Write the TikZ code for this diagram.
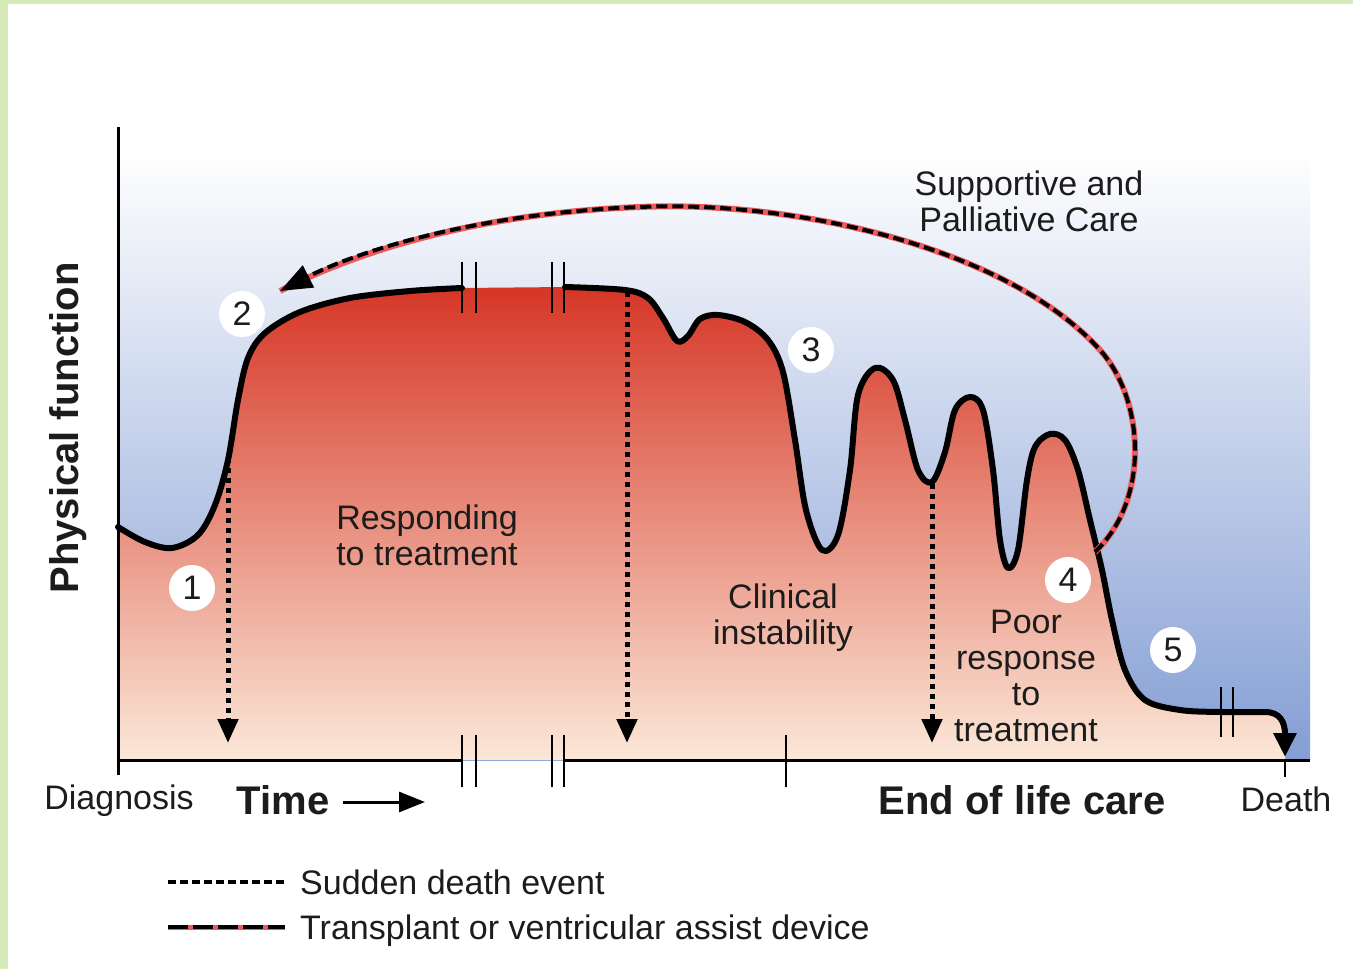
\documentclass[tikz,border=0pt]{standalone}
\usepackage{fontspec}
\setmainfont{Liberation Sans}
\usetikzlibrary{arrows.meta}
\definecolor{bgblue}{RGB}{132,158,212}
\definecolor{redtop}{RGB}{214,54,38}
\definecolor{redmid}{RGB}{226,120,88}
\definecolor{redbot}{RGB}{251,232,216}
\definecolor{framegreen}{RGB}{214,234,186}
\definecolor{arrowred}{RGB}{238,90,92}
\definecolor{txt}{RGB}{28,28,28}
\tikzset{
  axisline/.style={line width=3pt, black},
  breakmark/.style={line width=2.8pt, black},
  curveline/.style={line width=6pt, black, line cap=round, line join=round},
  sudden/.style={line width=5pt, black, dash pattern=on 5pt off 5pt, -{Triangle[length=24pt,width=20pt]}},
  redbase/.style={line width=6pt, arrowred},
  reddash/.style={line width=4pt, black, dash pattern=on 11pt off 5pt},
  num/.style={circle, fill=white, minimum size=46pt, inner sep=0pt, text=txt, font=\fontsize{34}{34}\selectfont},
  lbl/.style={text=txt, align=center, inner sep=0pt, font=\fontsize{34}{36}\selectfont},
  boldlbl/.style={text=txt, inner sep=0pt, font=\fontsize{40}{40}\selectfont\bfseries},
}
\begin{document}
\begin{tikzpicture}[x=1pt,y=-1pt]
\useasboundingbox (0,0) rectangle (1353,969);
\fill[white] (0,0) rectangle (1353,969);
% frame
\fill[framegreen] (0,0) rectangle (1353,4);
\fill[framegreen] (0,0) rectangle (8,969);
% background
\shade[top color=white, bottom color=bgblue] (118,150) rectangle (1310,760);
% red fill under curve
\shade[top color=redtop, middle color=redmid, bottom color=redbot]
  plot[smooth, tension=0.55] coordinates {(118,527) (145,542) (172,548) (198,535) (215,505) (228,460) (238,400) (248,358) (265,333) (300,312) (350,298) (410,291) (462,288)}
  -- plot[smooth, tension=0.55] coordinates {(565,287) (625,290) (648,298) (663,318) (677,341) (688,336) (700,319) (718,315) (745,322) (768,340) (783,372) (795,440) (806,510) (822,550) (838,535) (850,470) (858,395) (875,368) (893,380) (905,420) (918,470) (932,482) (945,452) (955,410) (970,397) (983,410) (993,470) (1000,540) (1008,568) (1018,550) (1027,480) (1035,447) (1050,434) (1065,440) (1078,470) (1090,520) (1102,570) (1112,620) (1125,670) (1145,700) (1180,710) (1220,712) (1265,712)}
  .. controls (1280,712) and (1285,722) .. (1285,740) -- (1285,760) -- (118,760) -- cycle;
% curve outline
\draw[curveline] plot[smooth, tension=0.55] coordinates {(118,527) (145,542) (172,548) (198,535) (215,505) (228,460) (238,400) (248,358) (265,333) (300,312) (350,298) (410,291) (462,288)};
\draw[curveline] plot[smooth, tension=0.55] coordinates {(565,287) (625,290) (648,298) (663,318) (677,341) (688,336) (700,319) (718,315) (745,322) (768,340) (783,372) (795,440) (806,510) (822,550) (838,535) (850,470) (858,395) (875,368) (893,380) (905,420) (918,470) (932,482) (945,452) (955,410) (970,397) (983,410) (993,470) (1000,540) (1008,568) (1018,550) (1027,480) (1035,447) (1050,434) (1065,440) (1078,470) (1090,520) (1102,570) (1112,620) (1125,670) (1145,700) (1180,710) (1220,712) (1265,712)};
\coordinate (endA) at (1265,712);
\coordinate (death) at (1285,757);
\draw[curveline, -{Triangle[length=24pt,width=22pt]}] (endA) .. controls (1280,712) and (1285,722) .. (death);
% axes
\coordinate (ytop) at (118,127);
\coordinate (ybot) at (118,775);
\draw[axisline] (ytop) -- (ybot);
\coordinate (x0) at (118,760);
\coordinate (x1) at (462,760);
\coordinate (x2) at (564,760);
\coordinate (x3) at (1310,760);
\draw[axisline] (x0) -- (x1);
\draw[axisline] (x2) -- (x3);
% break marks on axis
\foreach \bx in {462,476,552,564} {\draw[breakmark] (\bx,735) -- (\bx,787);}
\draw[breakmark] (786,735) -- (786,787);
\draw[breakmark] (1285,760) -- (1285,777);
% break marks on curve
\foreach \bx in {462,476,552,564} {\draw[breakmark] (\bx,262) -- (\bx,313);}
\foreach \bx in {1221,1233} {\draw[breakmark] (\bx,687) -- (\bx,737);}
% sudden death arrows
\coordinate (s1a) at (228,458); \coordinate (s1b) at (228,743);
\coordinate (s2a) at (627,292); \coordinate (s2b) at (627,743);
\coordinate (s3a) at (932,484); \coordinate (s3b) at (932,743);
\draw[sudden] (s1a) -- (s1b);
\draw[sudden] (s2a) -- (s2b);
\draw[sudden] (s3a) -- (s3b);
% transplant / VAD arrow
\coordinate (rstart) at (1095,552);
\coordinate (rmid1) at (1100,350);
\coordinate (rmid2) at (640,207);
\coordinate (rend) at (280,291);
\draw[redbase] (rstart) .. controls (1150,500) and (1145,400) .. (rmid1) .. controls (1010,250) and (800,200) .. (rmid2) .. controls (480,213) and (360,250) .. (rend);
\draw[reddash, -{Triangle[length=32pt,width=24pt]}] (rstart) .. controls (1150,500) and (1145,400) .. (rmid1) .. controls (1010,250) and (800,200) .. (rmid2) .. controls (480,213) and (360,250) .. (rend);
% numbers
\node[num] (n1) at (192,588) {1};
\node[num] (n2) at (242,314) {2};
\node[num] (n3) at (811,350) {3};
\node[num] (n4) at (1068,580) {4};
\node[num] (n5) at (1173,650) {5};
% labels
\node[boldlbl, rotate=90] (yl) at (68,428) {Physical function};
\node[lbl] (resp) at (427,535) {Responding\\to treatment};
\node[lbl] (clin) at (783,618) {Clinical\\instability};
\node[lbl] (poor) at (1026,676) {Poor\\response\\to\\treatment};
\node[lbl] (supp) at (1029,201) {Supportive and\\Palliative Care};
\node[lbl] (diag) at (119,801) {Diagnosis};
\node[boldlbl] (time) at (283,800) {Time};
\coordinate (ta) at (343,802);
\coordinate (tb) at (425,802);
\draw[line width=3pt, -{Triangle[length=26pt,width=20pt]}] (ta) -- (tb);
\node[boldlbl] (eol) at (1022,800) {End of life care};
\node[lbl] (dth) at (1286,799) {Death};
% legend
\coordinate (l1a) at (168,882); \coordinate (l1b) at (285,882);
\coordinate (l2a) at (168,927); \coordinate (l2b) at (285,927);
\draw[line width=3.5pt, dash pattern=on 8pt off 4pt] (l1a) -- (l1b);
\draw[redbase, line width=5pt] (l2a) -- (l2b);
\draw[line width=3.5pt, dash pattern=on 20pt off 5pt] (l2a) -- (l2b);
\node[lbl, anchor=base west] (leg1) at (300,894) {Sudden death event};
\node[lbl, anchor=base west] (leg2) at (300,939) {Transplant or ventricular assist device};
\end{tikzpicture}
\end{document}
